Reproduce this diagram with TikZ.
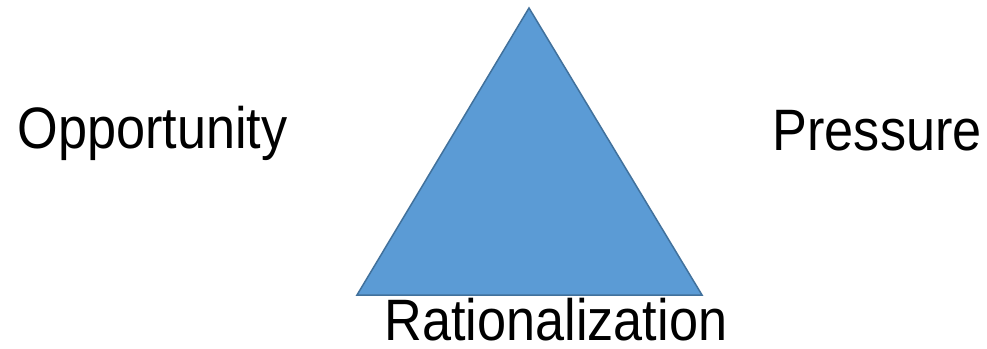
\documentclass[tikz,border=0pt]{standalone}
\usepackage{fontspec}
\setmainfont{Liberation Sans}
\definecolor{trifill}{HTML}{5B9BD5}
\definecolor{triedge}{HTML}{41719C}
\newcommand{\tallword}[1]{\scalebox{1.01}[1.13]{#1}}
\begin{document}
\begin{tikzpicture}[x=1pt,y=1pt,
  lbl/.style={anchor=base west,inner sep=0pt,font=\fontsize{51.7}{60}\selectfont,text=black}]
\useasboundingbox (0,0) rectangle (987,348);
\fill[white] (0,0) rectangle (987,348);
\coordinate (apex) at (529,340);
\coordinate (bl) at (357,53);
\coordinate (br) at (702,53);
\draw[fill=trifill,draw=triedge,line width=1.5pt,line join=miter] (apex) -- (bl) -- (br) -- cycle;
\node[lbl] (opp) at (17.5,199) {\tallword{Opportunity}};
\node[lbl] (pres) at (772.5,197) {\tallword{Pressure}};
\node[lbl] (rat) at (384.5,8) {\tallword{Rationalization}};
\end{tikzpicture}
\end{document}
